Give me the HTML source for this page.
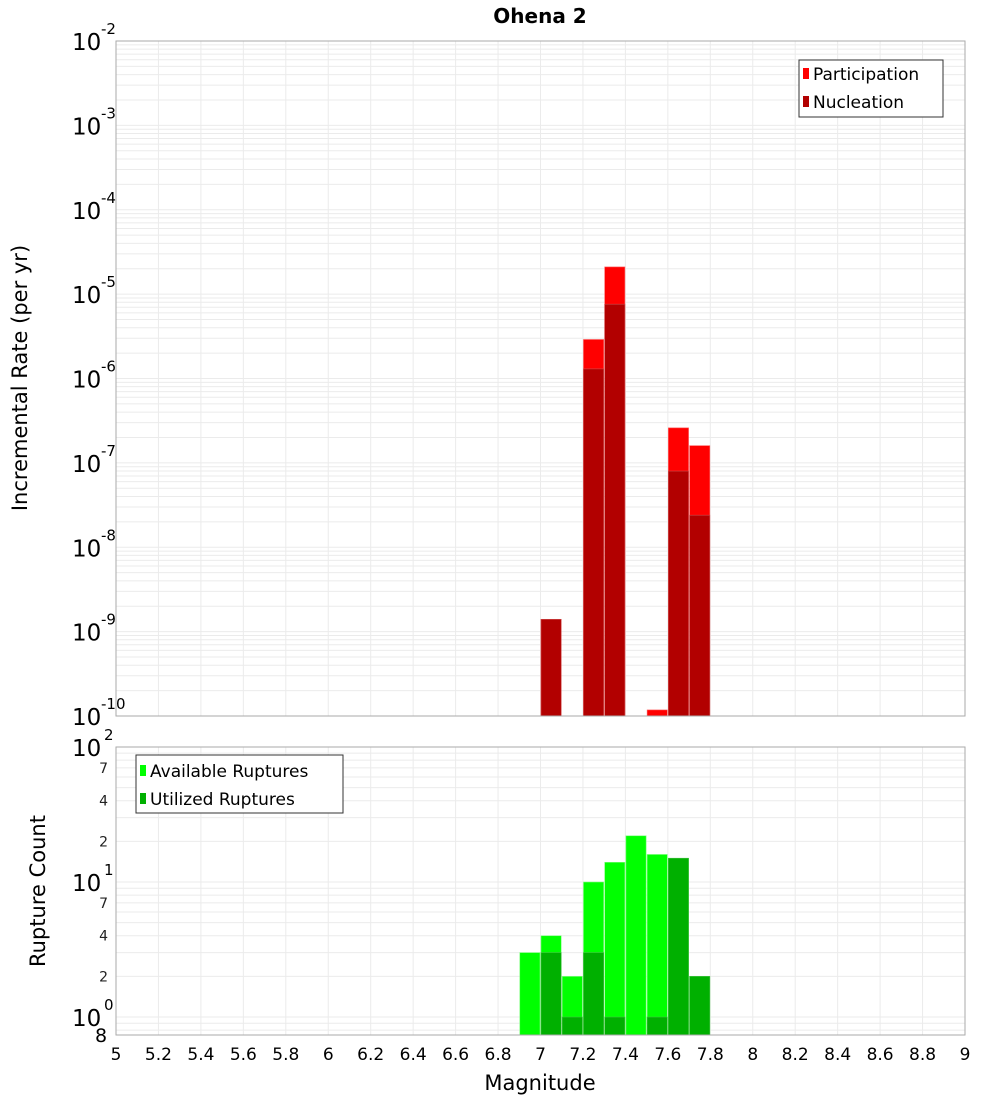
<!DOCTYPE html>
<html><head><meta charset="utf-8"><style>
body{margin:0;background:#fff;width:1000px;height:1100px;overflow:hidden}
svg{font-family:"DejaVu Sans","Liberation Sans",sans-serif}
</style></head><body>
<svg id="c" width="1000" height="1100" xmlns="http://www.w3.org/2000/svg">
<text x="540" y="23" text-anchor="middle" font-size="20" font-weight="bold">Ohena 2</text>
<g id="topPlot"></g>
<g id="botPlot"></g>
<text transform="translate(27,378) rotate(-90)" text-anchor="middle" font-size="21">Incremental Rate (per yr)</text>
<text transform="translate(45,891) rotate(-90)" text-anchor="middle" font-size="21">Rupture Count</text>
<text x="540" y="1090" text-anchor="middle" font-size="21">Magnitude</text>
<g id="legends">
<g>
<rect x="799" y="60" width="144" height="57" fill="#fff" stroke="#333"/>
<rect x="803" y="68" width="6" height="11" fill="#ff0000"/>
<text x="813" y="80" font-size="17">Participation</text>
<rect x="803" y="96" width="6" height="11" fill="#b20000"/>
<text x="813" y="108" font-size="17">Nucleation</text>
</g>
<g>
<rect x="136" y="755" width="207" height="58" fill="#fff" stroke="#333"/>
<rect x="140" y="765" width="6" height="11" fill="#00ff00"/>
<text x="150" y="777" font-size="17">Available Ruptures</text>
<rect x="140" y="793" width="6" height="11" fill="#00b000"/>
<text x="150" y="805" font-size="17">Utilized Ruptures</text>
</g>
</g>
</svg>
<script>
const mags=[6.95,7.05,7.15,7.25,7.35,7.45,7.55,7.65,7.75];
const participation=[0,1.4e-9,0,2.9e-6,2.1e-5,0,1.18e-10,2.6e-7,1.6e-7];
const nucleation=[0,1.4e-9,0,1.3e-6,7.6e-6,0,0,8e-8,2.4e-8];
const available=[3,4,2,10,14,22,16,15,2];
const utilized=[0,3,1,3,1,0,1,15,2];
const xTicks=[5,5.2,5.4,5.6,5.8,6,6.2,6.4,6.6,6.8,7,7.2,7.4,7.6,7.8,8,8.2,8.4,8.6,8.8,9];
const topExps=[-10,-9,-8,-7,-6,-5,-4,-3,-2];
const botMinor=[2,4,7,20,40,70];

const NS="http://www.w3.org/2000/svg";
const svgEl=document.getElementById('c');
const X0=116,X1=965;
const xs=m=>X0+(m-5)/4*(X1-X0);
const T0=41,T1=716;
const yTop=v=>T1-(Math.log10(v)+10)/8*(T1-T0);
const B0=747,B1=1035,bMin=Math.log10(0.736);
const yBot=v=>B1-(Math.log10(v)-bMin)/(2-bMin)*(B1-B0);
function mk(tag,attrs,parent){const e=document.createElementNS(NS,tag);for(const k in attrs)e.setAttribute(k,attrs[k]);(parent||svgEl).appendChild(e);return e;}
const topG=document.getElementById('topPlot'),botG=document.getElementById('botPlot');
mk('rect',{x:X0,y:T0,width:X1-X0,height:T1-T0,fill:'#fff'},topG);
mk('rect',{x:X0,y:B0,width:X1-X0,height:B1-B0,fill:'#fff'},botG);
for(let e=-10;e<-2;e++)for(let k=1;k<10;k++){const yy=yTop(k*Math.pow(10,e));const g=mk('line',{x1:X0,x2:X1,y1:yy,y2:yy,stroke:'#ebebeb'},topG);}
for(let e=-1;e<2;e++)for(let k=1;k<10;k++){const v=k*Math.pow(10,e);if(v<0.736)continue;const yy=yBot(v);const g=mk('line',{x1:X0,x2:X1,y1:yy,y2:yy,stroke:'#ebebeb'},botG);}
xTicks.forEach(t=>{const xx=xs(t);
 const a=mk('line',{x1:xx,x2:xx,y1:T0,y2:T1,stroke:'#ebebeb'},topG);
 const b=mk('line',{x1:xx,x2:xx,y1:B0,y2:B1,stroke:'#ebebeb'},botG);
 const l=mk('text',{x:xx,y:1060,'text-anchor':'middle','font-size':17});l.textContent=String(t);
 });
const bw=(X1-X0)/40;
mags.forEach((m,i)=>{
 if(participation[i]>0){const yy=yTop(participation[i]);const r=mk('rect',{x:xs(m)-bw/2+0.5,y:yy,width:bw-1,height:T1-yy,fill:'#ff0000',stroke:'#ff6060','stroke-width':0.6},topG);
  }
 if(nucleation[i]>0){const yy=yTop(nucleation[i]);const r=mk('rect',{x:xs(m)-bw/2+0.5,y:yy,width:bw-1,height:T1-yy,fill:'#b20000',stroke:'#d05050','stroke-width':0.6},topG);
  }
 if(available[i]>0){const yy=yBot(available[i]);const r=mk('rect',{x:xs(m)-bw/2+0.5,y:yy,width:bw-1,height:B1-yy,fill:'#00ff00',stroke:'#80ff80','stroke-width':0.6},botG);
  }
 if(utilized[i]>0){const yy=yBot(utilized[i]);const r=mk('rect',{x:xs(m)-bw/2+0.5,y:yy,width:bw-1,height:B1-yy,fill:'#00b000',stroke:'#40c040','stroke-width':0.6},botG);
  }
});
mk('rect',{x:X0,y:T0,width:X1-X0,height:T1-T0,fill:'none',stroke:'#aaa'},topG);
mk('rect',{x:X0,y:B0,width:X1-X0,height:B1-B0,fill:'none',stroke:'#aaa'},botG);
topExps.forEach(e=>{const yy=yTop(Math.pow(10,e));
 const t=mk('text',{x:72,y:yy+9,'font-size':23});t.textContent='10';
 
 const s=mk('text',{x:101,y:yy-7,'font-size':15});s.textContent=String(e);
 });
[[1,'0'],[10,'1'],[100,'2']].forEach(([v,ex])=>{const yy=yBot(v);
 const t=mk('text',{x:72,y:yy+9,'font-size':23});t.textContent='10';
 
 const s=mk('text',{x:104,y:yy-7,'font-size':15});s.textContent=ex;
 });
botMinor.forEach(v=>{const yy=yBot(v);const t=mk('text',{x:108,y:yy+5,'font-size':14,'text-anchor':'end',fill:'#222'});t.textContent=String(v)[0];
 });
const e8=mk('text',{x:95,y:1042,'font-size':19});e8.textContent='8';

svgEl.appendChild(document.getElementById('legends'));
</script>
</body></html>
